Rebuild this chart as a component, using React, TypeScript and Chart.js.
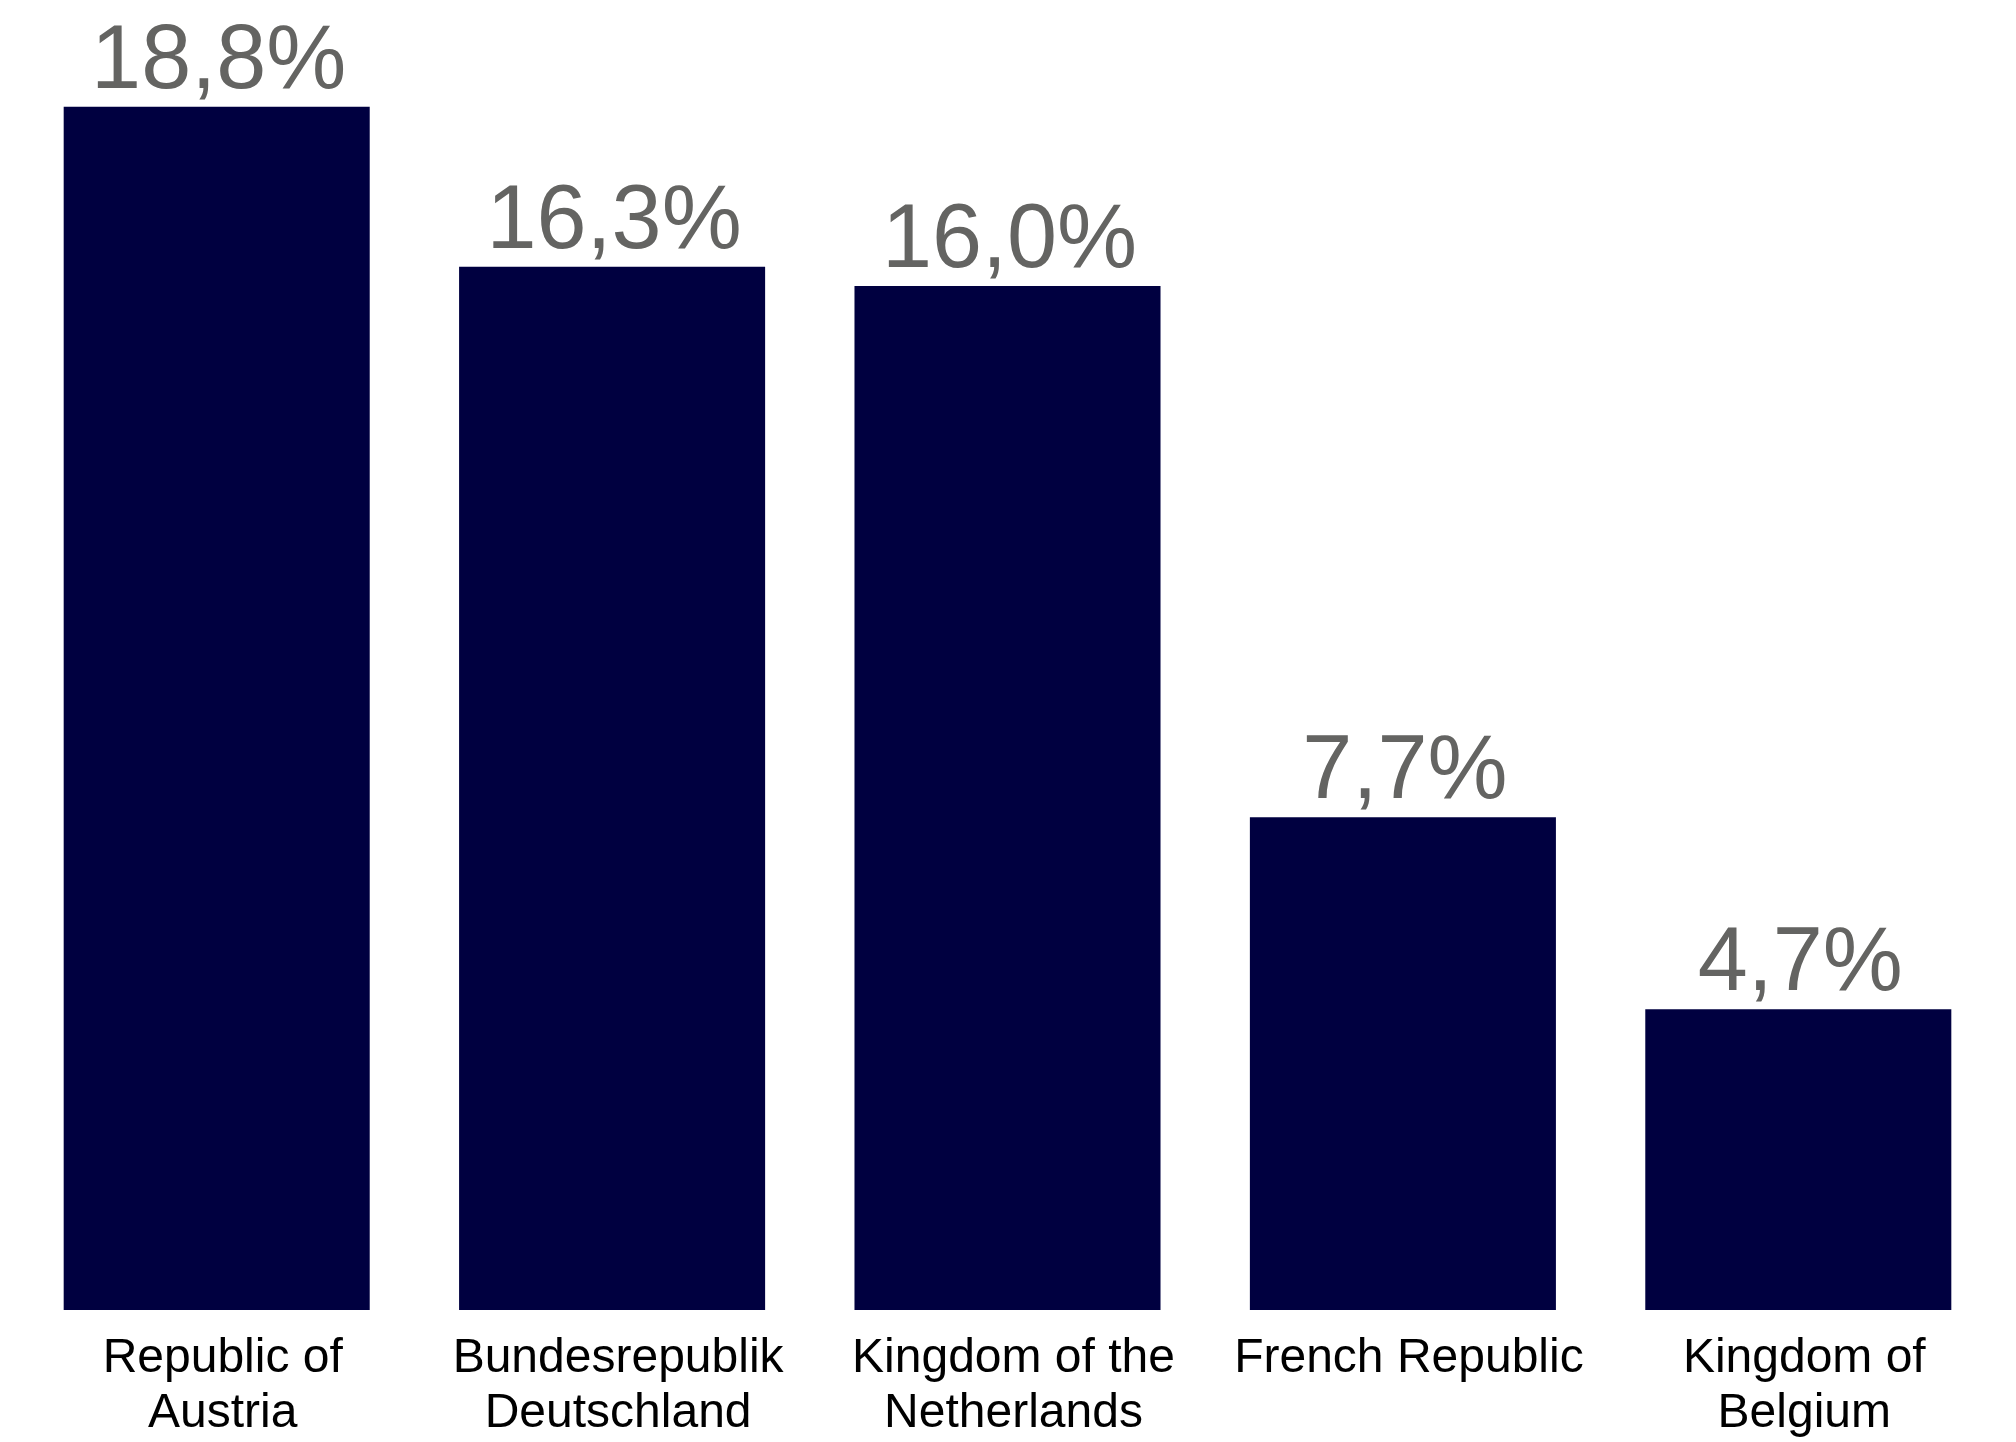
import React, { useEffect, useRef } from "react";
import { Chart, registerables } from "chart.js";

Chart.register(...registerables);

const categories: (string | string[])[] = [
  ["Republic of", "Austria"],
  ["Bundesrepublik", "Deutschland"],
  ["Kingdom of the", "Netherlands"],
  "French Republic",
  ["Kingdom of", "Belgium"],
];
const values: number[] = [18.8, 16.3, 16.0, 7.7, 4.7];

const BAR_COLOR = "#000040";
const VALUE_COLOR = "#646462";
const FONT = "'Liberation Sans', Arial, sans-serif";

const valueLabels = {
  id: "valueLabels",
  afterDatasetsDraw(chart: any) {
    const ctx = chart.ctx;
    const meta = chart.getDatasetMeta(0);
    ctx.save();
    ctx.font = `90px ${FONT}`;
    ctx.fillStyle = VALUE_COLOR;
    ctx.textAlign = "center";
    ctx.textBaseline = "alphabetic";
    meta.data.forEach((bar: any, i: number) => {
      const txt = values[i].toFixed(1).replace(".", ",") + "%";
      ctx.fillText(txt, bar.x + 2, bar.y - 19);
    });
    ctx.restore();
  },
};

export default function App() {
  const ref = useRef<HTMLCanvasElement | null>(null);
  useEffect(() => {
    document.body.style.margin = "0";
    const chart = new Chart(ref.current as HTMLCanvasElement, {
      type: "bar",
      data: {
        labels: categories,
        datasets: [
          {
            data: values,
            backgroundColor: BAR_COLOR,
            borderWidth: 0,
            categoryPercentage: 0.774,
            barPercentage: 1,
          },
        ],
      },
      options: {
        animation: false,
        responsive: true,
        maintainAspectRatio: false,
        layout: { padding: { left: 19, right: 20, top: 30, bottom: 0 } },
        plugins: {
          legend: { display: false },
          tooltip: { enabled: false },
        },
        scales: {
          x: {
            grid: { display: false, drawTicks: false },
            border: { display: false },
            ticks: {
              color: "#000000",
              font: { size: 48, family: FONT, lineHeight: 1.13 },
              padding: 22,
              labelOffset: 6,
              maxRotation: 0,
              autoSkip: false,
            },
            afterFit: (scale: any) => {
              scale.height = 132;
            },
          },
          y: {
            display: false,
            min: 0,
            max: 20,
          },
        },
      },
      plugins: [valueLabels],
    });
    return () => chart.destroy();
  }, []);
  return (
    <div style={{ width: 2016, height: 1442, position: "relative", background: "#fff" }}>
      <canvas ref={ref} />
    </div>
  );
}
